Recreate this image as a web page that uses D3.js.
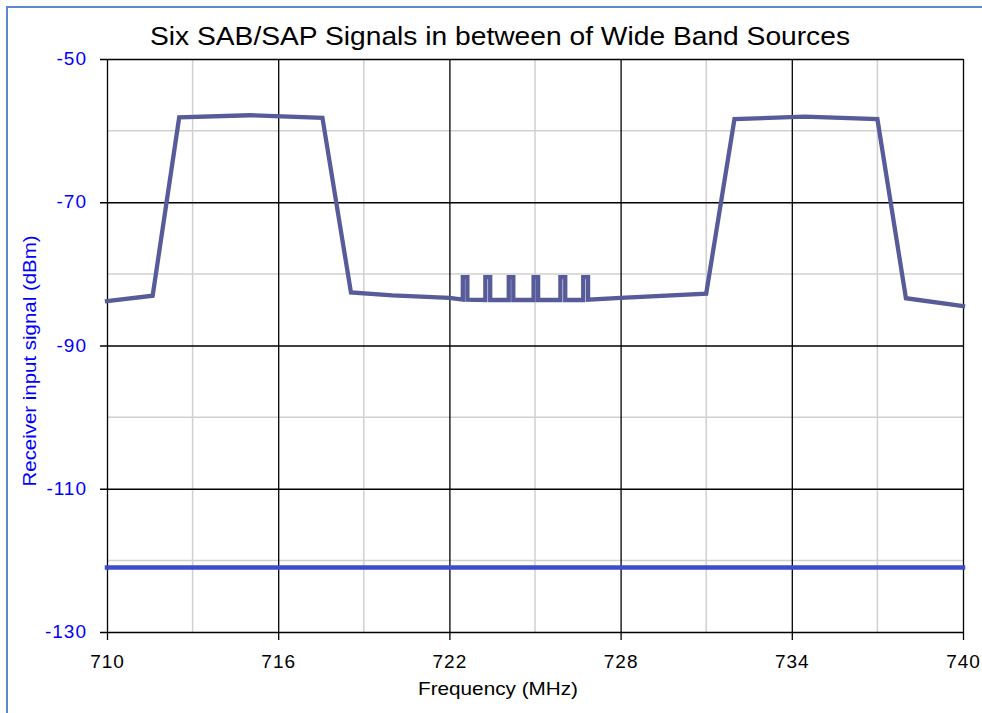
<!DOCTYPE html>
<html>
<head>
<meta charset="utf-8">
<script src="https://cdn.jsdelivr.net/npm/d3@7"></script>
<style>
  html, body { margin: 0; padding: 0; background: #fff; }
  svg { display: block; }
  text { font-family: "Liberation Sans", Arial, sans-serif; }
</style>
</head>
<body>
<svg id="chart" width="982" height="713"></svg>
<script>
// ---- data ----
const signalFreq = [710, 711.6, 712.53, 715.0, 717.55, 718.55, 720.0, 722.0,
  722.47, 722.47, 722.63, 722.63,
  723.26, 723.26, 723.43, 723.43,
  724.08, 724.08, 724.24, 724.24,
  724.95, 724.95, 725.11, 725.11,
  725.89, 725.89, 726.06, 726.06,
  726.69, 726.69, 726.86, 726.86,
  728.0, 731.0, 731.99, 734.45, 737.0, 738.0, 740];
const signalDbm = [-83.8, -83.05, -58.15, -57.85, -58.2, -82.6, -83.0, -83.35,
  -83.6, -80.45, -80.45, -83.6,
  -83.65, -80.45, -80.45, -83.65,
  -83.65, -80.45, -80.45, -83.65,
  -83.65, -80.45, -80.45, -83.65,
  -83.65, -80.45, -80.45, -83.65,
  -83.65, -80.45, -80.45, -83.6,
  -83.35, -82.75, -58.4, -58.05, -58.4, -83.4, -84.5];
const thresholdFreq = [710, 740];
const thresholdDbm = [-121, -121];
const xTickValues = [710, 716, 722, 728, 734, 740];
const xMinorValues = [713, 719, 725, 731, 737];
const yTickValues = [-50, -70, -90, -110, -130];
const yMinorValues = [-60, -80, -100, -120];
const titleText = "Six SAB/SAP Signals in between of Wide Band Sources";
const xTitle = "Frequency (MHz)";
const yTitle = "Receiver input signal (dBm)";

// ---- drawing ----
const svg = d3.select("#chart");
const x = d3.scaleLinear().domain([710, 740]).range([107, 963]);
const y = d3.scaleLinear().domain([-130, -50]).range([632, 59]);

// frame
svg.append("rect").attr("x", 7).attr("y", 7).attr("width", 1000).attr("height", 720)
  .attr("fill", "none").attr("stroke", "#5b8bcc").attr("stroke-width", 2);

// minor grid
const g = svg.append("g");
g.selectAll(".vminor").data(xMinorValues).enter().append("line")
  .attr("x1", d => x(d)).attr("x2", d => x(d)).attr("y1", y(-50)).attr("y2", y(-130))
  .attr("stroke", "#d0d0d0").attr("stroke-width", 1.5);
g.selectAll(".hminor").data(yMinorValues).enter().append("line")
  .attr("x1", x(710)).attr("x2", x(740)).attr("y1", d => y(d)).attr("y2", d => y(d))
  .attr("stroke", "#d0d0d0").attr("stroke-width", 1.5);

// major grid via axes
const yAxis = d3.axisLeft(y).tickValues(yTickValues).tickSize(-(x(740) - x(710)))
  .tickPadding(14).tickFormat(d => String(d));
const yg = svg.append("g").attr("transform", `translate(${x(710)},0)`).call(yAxis);
yg.select(".domain").remove();
yg.selectAll(".tick line").attr("stroke", "#000").attr("stroke-width", 1.3)
  .attr("x1", -7);
yg.selectAll(".tick text").attr("fill", "#0000ff").style("font-size", "19px")
  .style("letter-spacing", "1px").attr("dy", "0.3em").attr("x", -20);

const xAxis = d3.axisBottom(x).tickValues(xTickValues).tickSize(-(y(-130) - y(-50)))
  .tickPadding(0).tickFormat(d => String(d));
const xg = svg.append("g").attr("transform", `translate(0,${y(-130)})`).call(xAxis);
xg.select(".domain").remove();
xg.selectAll(".tick line").attr("stroke", "#000").attr("stroke-width", 1.3)
  .attr("y1", 8);
xg.selectAll(".tick text").attr("fill", "#000").style("font-size", "19px")
  .style("letter-spacing", "1px").attr("y", 36).attr("dy", 0);

// threshold line
const line = d3.line().x(d => x(d[0])).y(d => y(d[1]));
svg.append("path").datum(thresholdFreq.map((f, i) => [f, thresholdDbm[i]]))
  .attr("d", line).attr("fill", "none").attr("stroke", "#3d4bcc")
  .attr("stroke-width", 4.5).attr("stroke-linecap", "square");

// signal line
svg.append("path").datum(signalFreq.map((f, i) => [f, signalDbm[i]]))
  .attr("d", line).attr("fill", "none").attr("stroke", "#575b99")
  .attr("stroke-width", 4.3).attr("stroke-linejoin", "miter").attr("stroke-linecap", "square");

// titles
svg.append("text").attr("x", 500).attr("y", 45).attr("text-anchor", "middle")
  .style("font-size", "26px").attr("fill", "#000")
  .attr("textLength", 700).attr("lengthAdjust", "spacingAndGlyphs").text(titleText);
svg.append("text").attr("x", 498).attr("y", 695).attr("text-anchor", "middle")
  .style("font-size", "19px").attr("fill", "#000")
  .attr("textLength", 160).attr("lengthAdjust", "spacingAndGlyphs").text(xTitle);
svg.append("text").attr("transform", "translate(36,361) rotate(-90)")
  .attr("text-anchor", "middle").style("font-size", "19px").attr("fill", "#0000ff")
  .attr("textLength", 251).attr("lengthAdjust", "spacingAndGlyphs").text(yTitle);
</script>
</body>
</html>
